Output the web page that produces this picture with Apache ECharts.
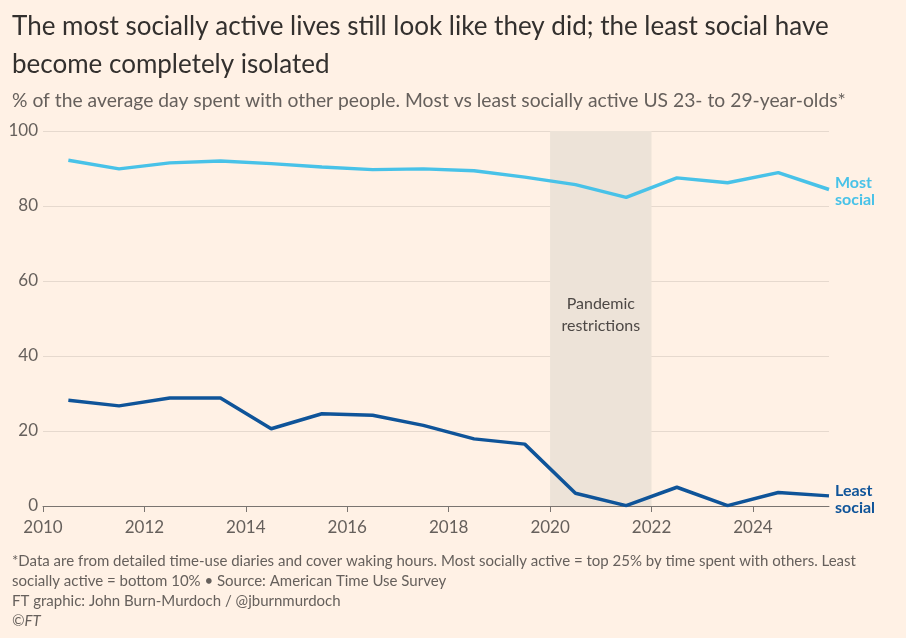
<!DOCTYPE html>
<html>
<head>
<meta charset="utf-8">
<script src="https://cdn.jsdelivr.net/npm/echarts@6/dist/echarts.min.js"></script>
<style>
html,body{margin:0;padding:0;background:#FFF1E5;}
#chart{width:906px;height:638px;}
</style>
</head>
<body>
<div id="chart"></div>
<script>
const years = [2010.5, 2011.5, 2012.5, 2013.5, 2014.5, 2015.5, 2016.5, 2017.5, 2018.5, 2019.5, 2020.5, 2021.5, 2022.5, 2023.5, 2024.5, 2025.5];
const mostSocial = [92.2, 89.9, 91.5, 92.0, 91.3, 90.4, 89.7, 89.9, 89.4, 87.7, 85.7, 82.3, 87.5, 86.2, 88.9, 84.4];
const leastSocial = [28.2, 26.7, 28.8, 28.8, 20.6, 24.6, 24.2, 21.5, 17.9, 16.5, 3.4, 0.1, 5.0, 0.1, 3.6, 2.7];
const xTicks = [2010, 2012, 2014, 2016, 2018, 2020, 2022, 2024];
const pandemic = [2020, 2022];

const FONT = 'Lato';
const chart = echarts.init(document.getElementById('chart'));
chart.setOption({
  backgroundColor: '#FFF1E5',
  animation: false,
  title: [
    {
      text: 'The most socially active lives still look like they did; the least social have\nbecome completely isolated',
      left: 7, top: 3,
      textStyle: {fontFamily: FONT, fontSize: 26, fontWeight: 'normal', color: '#33302E', lineHeight: 38}
    },
    {
      text: '% of the average day spent with other people. Most vs least socially active US 23- to 29-year-olds*',
      left: 7, top: 86,
      textStyle: {fontFamily: FONT, fontSize: 19.3, fontWeight: 'normal', color: '#66605C'}
    },
    {
      text: '*Data are from detailed time-use diaries and cover waking hours. Most socially active = top 25% by time spent with others. Least\nsocially active = bottom 10% \u2022 Source: American Time Use Survey\nFT graphic: John Burn-Murdoch / @jburnmurdoch\n{it|\u00A9FT}',
      left: 7, top: 546,
      textStyle: {fontFamily: FONT, fontSize: 15, fontWeight: 'normal', color: '#66605C', lineHeight: 20,
        rich: {it: {fontFamily: FONT, fontSize: 15, fontStyle: 'italic', color: '#66605C', lineHeight: 20}}}
    }
  ],
  grid: {left: 43, right: 77, top: 131, bottom: 132, containLabel: false},
  xAxis: {
    type: 'value', min: 2010, max: 2025.5, interval: 2,
    axisLine: {show: true, lineStyle: {color: '#7A7470', width: 1}},
    axisTick: {show: true, length: 6, lineStyle: {color: '#7A7470'}, customValues: xTicks},
    axisLabel: {fontFamily: FONT, fontSize: 17, color: '#66605C', margin: 13, customValues: xTicks,
      formatter: v => String(v)},
    splitLine: {show: false}
  },
  yAxis: {
    type: 'value', min: 0, max: 100, interval: 20,
    axisLine: {show: false}, axisTick: {show: false},
    axisLabel: {fontFamily: FONT, fontSize: 17, color: '#66605C', margin: 5},
    splitLine: {lineStyle: {color: '#E6D9CE', width: 1}}
  },
  series: [
    {
      type: 'line', name: 'Most social', data: years.map((y, i) => [y, mostSocial[i]]),
      showSymbol: false, symbol: 'none', lineStyle: {color: '#48C2E8', width: 3.5}, itemStyle: {color: '#48C2E8'},
      endLabel: {show: true, formatter: 'Most\nsocial', color: '#48C2E8', fontFamily: FONT, fontSize: 16, fontWeight: 'bold', lineHeight: 17, distance: 6, align: 'left', offset: [0, 2]},
      markArea: {
        silent: true,
        itemStyle: {color: '#EDE3D8'},
        label: {show: true, position: 'inside', formatter: 'Pandemic\nrestrictions', fontFamily: FONT, fontSize: 16, color: '#4D4845', lineHeight: 22, offset: [0, -4]},
        data: [[{xAxis: pandemic[0]}, {xAxis: pandemic[1]}]]
      },
      z: 3
    },
    {
      type: 'line', name: 'Least social', data: years.map((y, i) => [y, leastSocial[i]]),
      showSymbol: false, symbol: 'none', lineStyle: {color: '#0F5499', width: 3.5}, itemStyle: {color: '#0F5499'},
      endLabel: {show: true, formatter: 'Least\nsocial', color: '#0F5499', fontFamily: FONT, fontSize: 16, fontWeight: 'bold', lineHeight: 17, distance: 6, align: 'left', offset: [0, 3]},
      z: 3
    }
  ]
});
</script>
</body>
</html>
